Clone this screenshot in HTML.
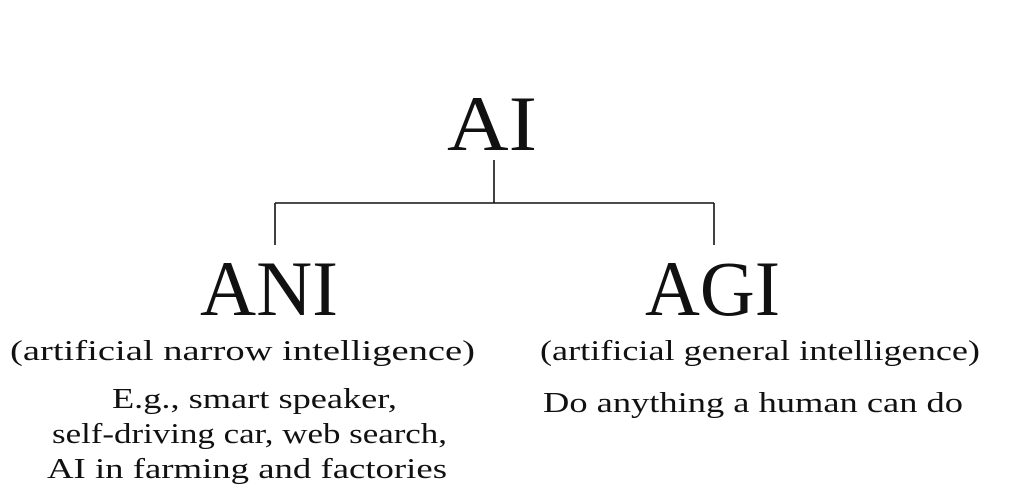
<!DOCTYPE html>
<html><head><meta charset="utf-8"><style>
html,body{margin:0;padding:0;background:#fff;width:1022px;height:501px;overflow:hidden}
svg{display:block}
text{font-family:"Liberation Serif",serif;fill:#111}
</style></head><body>
<svg width="1022" height="501" viewBox="0 0 1022 501">
<g stroke="#111" stroke-width="1.6" fill="none">
<line x1="494" y1="160" x2="494" y2="203"/>
<line x1="275" y1="203" x2="714" y2="203"/>
<line x1="275" y1="203" x2="275" y2="245"/>
<line x1="714" y1="203" x2="714" y2="245"/>
</g>
<text x="447" y="150" font-size="78" textLength="90" lengthAdjust="spacingAndGlyphs">AI</text>
<text x="200" y="315" font-size="78" textLength="138" lengthAdjust="spacingAndGlyphs">ANI</text>
<text x="645" y="315" font-size="78" textLength="135" lengthAdjust="spacingAndGlyphs">AGI</text>
<text x="10" y="360" font-size="28" textLength="465" lengthAdjust="spacingAndGlyphs">(artificial narrow intelligence)</text>
<text x="540" y="360" font-size="28" textLength="440" lengthAdjust="spacingAndGlyphs">(artificial general intelligence)</text>
<text x="112" y="408" font-size="28" textLength="285" lengthAdjust="spacingAndGlyphs">E.g., smart speaker,</text>
<text x="52" y="443" font-size="28" textLength="395" lengthAdjust="spacingAndGlyphs">self-driving car, web search,</text>
<text x="47" y="478" font-size="28" textLength="400" lengthAdjust="spacingAndGlyphs">AI in farming and factories</text>
<text x="543" y="412" font-size="28" textLength="420" lengthAdjust="spacingAndGlyphs">Do anything a human can do</text>
</svg>
</body></html>
